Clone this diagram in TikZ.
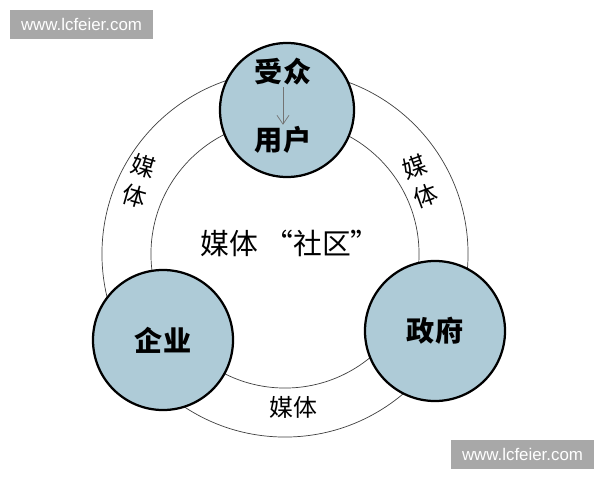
\documentclass[tikz,border=0pt]{standalone}
\usepackage{fontspec}
\newfontfamily\cjk{Noto Sans CJK SC}
\setsansfont{Liberation Sans}
\usetikzlibrary{arrows.meta}
\definecolor{disc}{RGB}{174,203,215}
\definecolor{stampgray}{RGB}{168,168,168}

\begin{document}
\begin{tikzpicture}[x=0.025cm,y=-0.025cm,>={Straight Barb[length=2.2mm,width=3mm]},
  party/.style={circle,draw=black,line width=1.6pt,fill=disc,minimum size=3.5cm,inner sep=0pt,font=\cjk\bfseries\fontsize{20}{20}\selectfont},
  media/.style={font=\cjk\fontsize{17}{22}\selectfont,align=center,inner sep=0pt},
  ring/.style={draw=black!75,line width=0.5pt},
  stamp/.style={fill=stampgray,text=white,font=\sffamily\fontsize{12}{12}\selectfont,minimum width=3.575cm,minimum height=0.725cm,inner sep=0pt}]
\useasboundingbox (0,0) rectangle (600,480);
\fill[white] (0,0) rectangle (600,480);
% the media ring
\coordinate (hub) at (285,254);
\draw[ring] (hub) circle[radius=4.575cm];
\draw[ring] (hub) circle[radius=3.35cm];
\node[media] (centre) at (290,243) {\fontsize{20.5}{20.5}\selectfont 媒体 “社区”};
\node[media,rotate=-16] (mediaL) at (139,181) {媒\\体};
\node[media,rotate=20] (mediaR) at (420,181) {媒\\体};
\node[media] (mediaB) at (293,407) {媒体};
% the three parties
\node[party,minimum size=3.35cm] (top) at (287,110) {};
\node[font=\cjk\bfseries\fontsize{20}{20}\selectfont,inner sep=1pt] (aud) at (283,72) {受众};
\node[font=\cjk\bfseries\fontsize{20}{20}\selectfont,inner sep=1pt] (user) at (283,140) {用户};
\draw[->,black!55,line width=0.5pt] (aud) -- (user);
\node[party] (firm) at (163,340) {企业};
\node[party] (gov) at (435,331) {政府};
% watermarks
\node[stamp] (wm1) at (81.5,24.5) {www.lcfeier.com};
\node[stamp] (wm2) at (522.5,454.5) {www.lcfeier.com};
\end{tikzpicture}
\end{document}
